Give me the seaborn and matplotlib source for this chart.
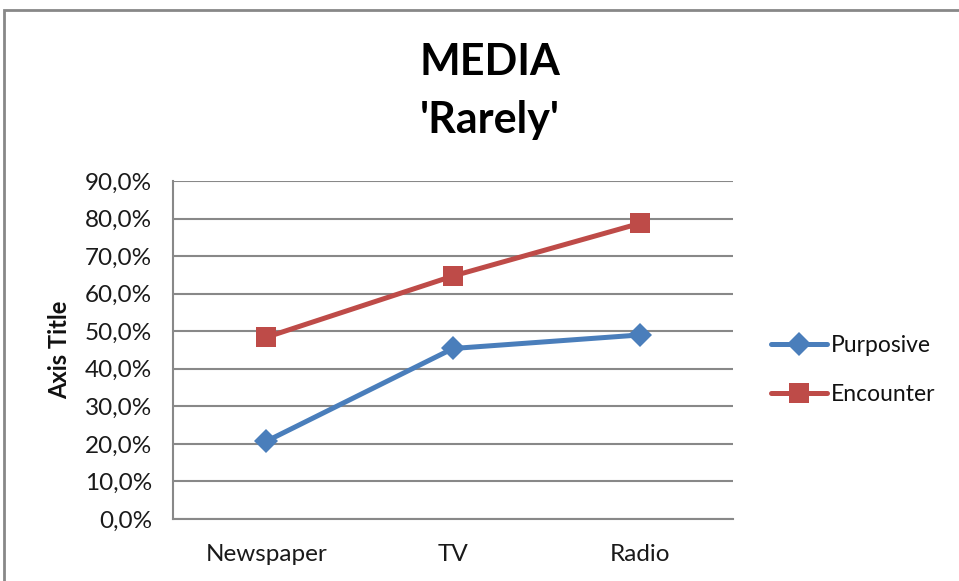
import matplotlib
matplotlib.use("Agg")
import matplotlib.pyplot as plt
import matplotlib.patches as mpatches
import seaborn as sns
import pandas as pd
from matplotlib.ticker import FuncFormatter, MultipleLocator

categories = ["Newspaper", "TV", "Radio"]
purposive = [0.207, 0.454, 0.490]
encounter = [0.484, 0.647, 0.787]
series_names = ["Purposive", "Encounter"]

df = pd.DataFrame({
    "Media": categories * 2,
    "Share": purposive + encounter,
    "Series": [series_names[0]] * 3 + [series_names[1]] * 3,
})
df["pos"] = df["Media"].map({c: i for i, c in enumerate(categories)})

sns.set_theme(style="white")
plt.rcParams["font.family"] = ["Lato", "DejaVu Sans"]
plt.rcParams["text.color"] = "#111111"

fig = plt.figure(figsize=(9.59, 5.81), dpi=100)
ax = fig.add_axes([173 / 959, 1 - 519 / 581, 560 / 959, 338 / 581])

palette = {"Purposive": "#4A7EBB", "Encounter": "#BE4B48"}
markers = {"Purposive": "D", "Encounter": "s"}
sizes = {"Purposive": 12, "Encounter": 14}
for s in series_names:
    sub = df[df["Series"] == s]
    sns.lineplot(data=sub, x="pos", y="Share", color=palette[s], marker=markers[s],
                 linewidth=3.6, markersize=sizes[s], markeredgewidth=0, ax=ax)

ax.set_xlim(-0.5, 2.5)
ax.set_ylim(0, 0.9)
ax.yaxis.set_major_locator(MultipleLocator(0.1))
ax.yaxis.set_major_formatter(FuncFormatter(lambda v, _: f"{v * 100:.1f}%".replace(".", ",")))
ax.set_xticks(range(len(categories)))
ax.set_xticklabels(categories)
ax.grid(axis="y", color="#888888", linewidth=1.5)
ax.set_axisbelow(True)
for side in ["top", "right"]:
    ax.spines[side].set_visible(False)
for side in ["left", "bottom"]:
    ax.spines[side].set_color("#888888")
    ax.spines[side].set_linewidth(1.5)
ax.tick_params(axis="both", length=0, labelsize=17.5, colors="#1a1a1a")
ax.tick_params(axis="y", pad=15)
ax.tick_params(axis="x", pad=18)
ax.set_xlabel("")
ax.set_ylabel("Axis Title", fontsize=17, fontweight="bold", color="#111111")
ax.yaxis.set_label_coords((71 - 173) / 560, 0.5)

fig.text(490 / 959, 1 - 62 / 581, "MEDIA", ha="center", va="center",
         fontsize=31, fontweight="bold", color="black")
fig.text(490 / 959, 1 - 120 / 581, "'Rarely'", ha="center", va="center",
         fontsize=31, fontweight="bold", color="black")

handles = [plt.Line2D([], [], color=palette[s], marker=markers[s], linewidth=3.6,
                      markersize=sizes[s], markeredgewidth=0) for s in series_names]
fig.legend(handles, series_names, loc="center left",
           bbox_to_anchor=(771 / 959, 1 - 370 / 581), frameon=False,
           fontsize=16.5, handlelength=2.45, handletextpad=0.15, labelspacing=1.25,
           borderpad=0, borderaxespad=0)

border = mpatches.Rectangle((4 / 959, -0.05), 1.1, 1 - 10 / 581 + 0.05,
                            transform=fig.transFigure, fill=False,
                            edgecolor="#888888", linewidth=2)
fig.patches.append(border)

fig.savefig("out.png", dpi=100)
